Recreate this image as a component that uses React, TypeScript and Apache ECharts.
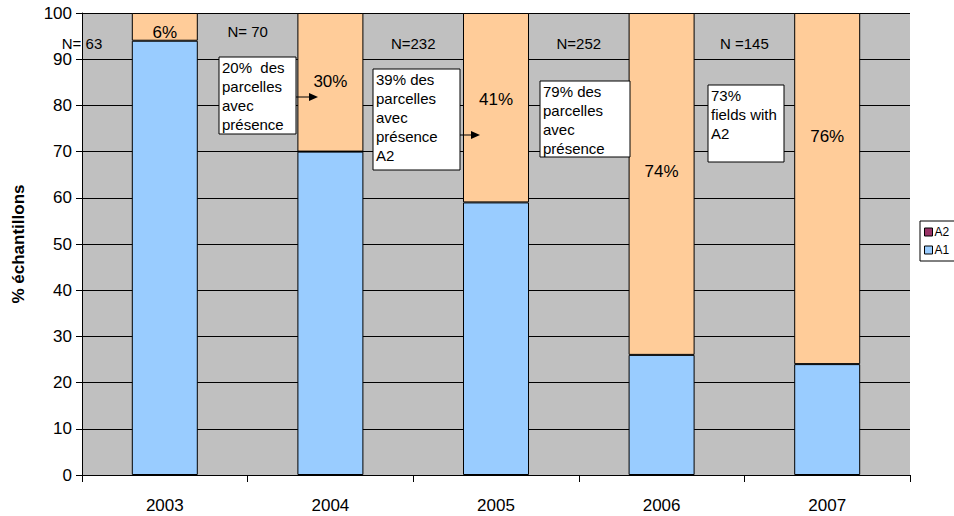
import React, { useEffect, useRef } from "react";
import * as echarts from "echarts";

const years = ["2003", "2004", "2005", "2006", "2007"];
const a1 = [94, 70, 59, 26, 24];
const a2 = [6, 30, 41, 74, 76];
const pctLabels = ["6%", "30%", "41%", "74%", "76%"];
const pctLabelY = [95.7, 85.1, 81.2, 65.8, 73.2];
const nLabels = ["N= 63", "N= 70", "N=232", "N=252", "N =145"];
const nLabelY = [93.3, 96.1, 93.3, 93.3, 93.3];
const notes = [
  { lines: ["20%  des", "parcelles", "avec", "présence"], box: [219, 57, 77, 77], arrow: [296, 97, 318] },
  { lines: ["39% des", "parcelles", "avec", "présence", "A2"], box: [373, 69, 87, 101], arrow: [460, 135, 480] },
  { lines: ["79% des", "parcelles", "avec", "présence"], box: [540, 81, 90, 76], arrow: null },
  { lines: ["73%", "fields with", "A2"], box: [708, 85, 76, 77], arrow: null },
];

const FONT = "Liberation Sans, Arial, sans-serif";

export default function App() {
  const ref = useRef<HTMLDivElement>(null);
  useEffect(() => {
    const chart = echarts.init(ref.current!, null, { renderer: "svg" });
    chart.setOption({
      animation: false,
      textStyle: { fontFamily: FONT, color: "#000" },
      grid: {
        left: 82, right: 44, top: 13, bottom: 41,
        show: true, backgroundColor: "#C0C0C0", borderWidth: 0,
      },
      legend: {
        data: ["A2", "A1"],
        orient: "vertical",
        left: 920, top: 221,
        backgroundColor: "#fff",
        borderColor: "#000", borderWidth: 1,
        padding: [5, 6, 5, 4],
        itemGap: 6, itemWidth: 8, itemHeight: 8,
        icon: "rect",
        itemStyle: { borderColor: "#000", borderWidth: 1 },
        textStyle: { fontFamily: FONT, fontSize: 12, color: "#000", padding: [0, 0, 0, -3] },
      },
      xAxis: {
        type: "category",
        data: years,
        axisLine: { lineStyle: { color: "#000", width: 1 } },
        axisTick: { show: true, length: 7, lineStyle: { color: "#000" } },
        axisLabel: { fontFamily: FONT, fontSize: 17, color: "#000", margin: 22 },
      },
      yAxis: {
        type: "value",
        min: 0, max: 100, interval: 10,
        name: "% échantillons",
        nameLocation: "middle",
        nameGap: 55,
        nameTextStyle: { fontFamily: FONT, fontSize: 17, fontWeight: "bold", color: "#000" },
        axisLine: { show: true, lineStyle: { color: "#000", width: 1 } },
        axisTick: { show: true, length: 6, lineStyle: { color: "#000" } },
        axisLabel: { fontFamily: FONT, fontSize: 17, color: "#000", margin: 10 },
        splitLine: { show: true, lineStyle: { color: "#000", width: 1 } },
      },
      series: [
        {
          name: "A1", type: "bar", stack: "s", data: a1,
          barWidth: 66,
          itemStyle: { color: "#99CCFF", borderColor: "#000", borderWidth: 1 },
        },
        {
          name: "A2", type: "bar", stack: "s",
          data: a2.map((v) => ({ value: v, itemStyle: { color: "#FFCC99" } })),
          barWidth: 66,
          itemStyle: { color: "#993366", borderColor: "#000", borderWidth: 1 },
        },
      ],
    });

    const px = (i: number, v: number) => chart.convertToPixel({ gridIndex: 0 }, [i, v]) as number[];
    const step = px(1, 0)[0] - px(0, 0)[0];
    const graphics: any[] = [];
    years.forEach((_, i) => {
      const p = px(i, pctLabelY[i]);
      graphics.push({
        type: "text", x: p[0], y: p[1], z: 100,
        style: { text: pctLabels[i], fill: "#000", font: `17px ${FONT}`, align: "center", verticalAlign: "middle" },
      });
      const q = px(i, nLabelY[i]);
      graphics.push({
        type: "text", x: q[0] - step / 2, y: q[1], z: 100,
        style: { text: nLabels[i], fill: "#000", font: `15px ${FONT}`, align: "center", verticalAlign: "middle" },
      });
    });
    notes.forEach((n) => {
      const [bx, by, bw, bh] = n.box;
      graphics.push({
        type: "rect", z: 100, shape: { x: bx, y: by, width: bw, height: bh },
        style: { fill: "#fff", stroke: "#000", lineWidth: 1 },
      });
      graphics.push({
        type: "text", x: bx + 3, y: by + 1, z: 101,
        style: { text: n.lines.join("\n"), fill: "#000", font: `15px ${FONT}`, lineHeight: 19, align: "left", verticalAlign: "top" },
      });
      if (n.arrow) {
        const [x0, y0, x1] = n.arrow;
        graphics.push({ type: "line", z: 100, shape: { x1: x0, y1: y0, x2: x1 - 8, y2: y0 }, style: { stroke: "#000", lineWidth: 1 } });
        graphics.push({
          type: "polygon", z: 100,
          shape: { points: [[x1, y0], [x1 - 9, y0 - 4], [x1 - 9, y0 + 4]] },
          style: { fill: "#000" },
        });
      }
    });
    chart.setOption({ graphic: graphics });
    return () => chart.dispose();
  }, []);
  return <div ref={ref} style={{ width: 954, height: 516, position: "absolute", left: 0, top: 0 }} />;
}
